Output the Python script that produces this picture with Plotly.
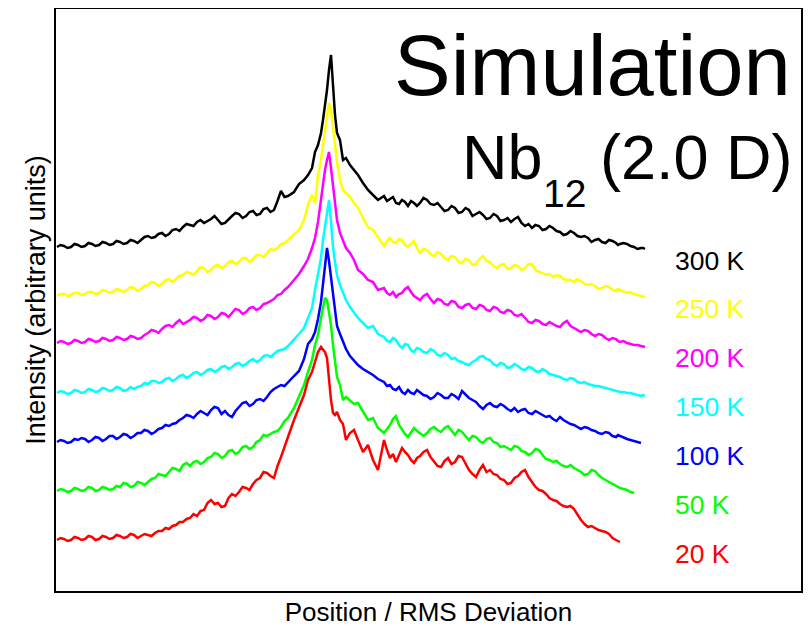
import plotly.graph_objects as go

# Position / RMS deviation (shared sample positions)
position = [
    -2.73, -2.695, -2.66, -2.625, -2.59, -2.555, -2.52, -2.485, -2.45, -2.415,
    -2.38, -2.345, -2.31, -2.275, -2.24, -2.205, -2.17, -2.135, -2.10, -2.065,
    -2.03, -1.995, -1.96, -1.925, -1.89, -1.855, -1.82, -1.785, -1.75, -1.715,
    -1.68, -1.645, -1.61, -1.575, -1.54, -1.505, -1.47, -1.435, -1.40, -1.365,
    -1.33, -1.295, -1.26, -1.225, -1.19, -1.155, -1.12, -1.085, -1.05, -1.015,
    -0.98, -0.945, -0.91, -0.875, -0.84, -0.805, -0.77, -0.735, -0.70, -0.665,
    -0.63, -0.595, -0.56, -0.525, -0.49, -0.455, -0.42,
    -0.36, -0.31, -0.26, -0.22, -0.18, -0.15, -0.12, -0.09, -0.07, -0.05,
    -0.03, -0.01, 0.01, 0.03, 0.05, 0.07, 0.10, 0.13, 0.16, 0.20,
    0.24, 0.28, 0.33, 0.38, 0.43, 0.48,
    0.54, 0.57, 0.60, 0.63, 0.66, 0.69, 0.72, 0.75, 0.78, 0.81, 0.84, 0.87, 0.90,
    0.935, 0.97, 1.005, 1.04, 1.075, 1.11, 1.145, 1.18, 1.215, 1.25,
    1.285, 1.32, 1.355, 1.39, 1.425, 1.46, 1.495, 1.53, 1.565, 1.60,
    1.635, 1.67, 1.705, 1.74, 1.775, 1.81, 1.845, 1.88, 1.915, 1.95,
    1.985, 2.02, 2.055, 2.09, 2.125, 2.16, 2.195, 2.23, 2.265, 2.30,
    2.335, 2.37, 2.405, 2.44, 2.475, 2.51, 2.545, 2.58, 2.615, 2.65,
    2.685, 2.72, 2.755, 2.79, 2.825, 2.86,
    2.88, 2.90, 2.935, 2.97, 3.005, 3.04, 3.075, 3.11, 3.13, 3.15]

temperatures = ["300 K", "250 K", "200 K", "150 K", "100 K", "50 K", "20 K"]
colors = ["#000000", "#ffff00", "#ff00ff", "#00ffff", "#0000ff", "#00ff00", "#ff0000"]
offsets = [344, 296, 247, 198, 149, 100, 51]

i_300 = [0, 2, 1, -1, 0, 3, 2, 0, 1, 4, 3, 1, 2, 5, 4, 2, 3, 6, 5, 3, 4, 7, 6, 4, 7, 10, 11, 9, 10, 13,
         14, 11, 13, 17, 18, 16, 20, 23, 22, 21, 25, 27, 24, 26, 28, 31, 27, 23, 24, 28, 31, 34, 33, 29, 31,
         35, 36, 32, 33, 38, 39, 35, 37, 46, 56, 50, 51,
         55, 63, 67, 72, 79, 95, 102, 114, 127, 140, 157, 177, 192, 162, 132, 114, 107, 87, 89, 82,
         77, 72, 64, 57, 52, 47,
         51, 46, 48, 50, 44, 43, 47, 45, 41, 46, 44, 41, 44, 49, 47, 43, 42, 44, 40, 36, 37, 41, 39, 34,
         35, 39, 37, 31, 33, 35, 32, 28, 29, 33, 31, 26, 27, 29, 25, 28, 30, 24, 21, 23, 19, 22, 21, 17,
         18, 21, 19, 16, 15, 12, 13, 16, 14, 11, 10, 11, 9, 5, 7, 8, 5, 4, 7, 6, 4, 2, 3, 4, 3, 1, 0, -2,
         -1, -1, -2]
i_250 = [-1, 1, 1, -1, 0, 2, 2, 0, 1, 3, 3, 1, 2, 5, 4, 2, 3, 6, 5, 3, 5, 8, 7, 4, 6, 9, 10, 13, 12, 9,
         11, 15, 16, 13, 16, 19, 20, 23, 22, 20, 24, 28, 27, 23, 25, 29, 30, 27, 29, 33, 34, 31, 33, 37, 37,
         33, 36, 40, 40, 38, 42, 46, 45, 47, 51, 52, 55,
         60, 65, 75, 90, 100, 92, 120, 135, 150, 167, 178, 192, 185, 168, 150, 133, 115, 105, 102, 98,
         92, 87, 77, 68, 65, 58,
         49, 54, 57, 53, 52, 56, 55, 50, 48, 51, 54, 47, 42, 46, 45, 41, 39, 43, 41, 37, 35, 39, 38, 33,
         32, 36, 35, 30, 31, 36, 39, 34, 33, 29, 27, 30, 31, 26, 27, 30, 29, 25, 27, 31, 31, 25, 23, 22,
         20, 21, 18, 20, 19, 16, 15, 15, 13, 16, 14, 11, 10, 11, 9, 6, 7, 9, 8, 5, 4, 6, 5, 3, 2, 3, 1, 0,
         -1, -1, -2]
i_200 = [1, 3, 2, 0, 1, 4, 3, 1, 2, 5, 4, 2, 3, 6, 5, 3, 4, 7, 6, 4, 5, 8, 7, 5, 6, 9, 11, 14, 13, 11,
         15, 18, 19, 17, 21, 24, 20, 22, 24, 27, 26, 23, 25, 29, 28, 25, 27, 31, 30, 27, 31, 35, 34, 30, 32,
         36, 37, 34, 36, 40, 41, 43, 45, 49, 50, 54, 57,
         64, 70, 78, 85, 96, 106, 122, 144, 162, 174, 184, 192, 176, 157, 139, 124, 111, 104, 96, 91,
         84, 74, 70, 64, 62, 54,
         56, 51, 49, 52, 47, 50, 51, 55, 57, 52, 48, 46, 44, 48, 50, 45, 41, 45, 44, 40, 39, 43, 42, 37,
         36, 39, 40, 36, 35, 39, 38, 34, 33, 37, 36, 32, 31, 34, 33, 29, 28, 30, 26, 22, 21, 24, 23, 20,
         19, 22, 20, 18, 17, 21, 23, 18, 16, 14, 12, 14, 13, 10, 8, 10, 9, 6, 4, 6, 5, 3, 2, 3, 1, 0,
         -1, -1, -2, -2, -3]
i_150 = [0, 2, 1, -1, 0, 3, 2, 0, 1, 4, 3, 1, 2, 5, 4, 2, 3, 6, 5, 2, 3, 6, 4, 6, 7, 10, 9, 12, 12, 10,
         11, 14, 15, 12, 14, 17, 18, 15, 17, 20, 21, 18, 20, 23, 24, 21, 23, 26, 27, 24, 26, 29, 30, 27, 29,
         32, 34, 31, 33, 37, 38, 36, 39, 42, 43, 44, 47,
         53, 59, 65, 75, 85, 103, 118, 135, 153, 165, 181, 193, 171, 146, 131, 118, 108, 100, 93, 86,
         81, 75, 70, 65, 67, 59,
         56, 52, 51, 55, 53, 48, 45, 49, 48, 43, 41, 45, 44, 41, 40, 44, 42, 38, 37, 40, 38, 34, 35, 32,
         31, 29, 28, 31, 33, 36, 37, 34, 33, 29, 27, 30, 29, 25, 26, 29, 27, 24, 23, 26, 25, 22, 21, 24,
         22, 19, 18, 17, 16, 14, 13, 15, 14, 11, 10, 11, 9, 8, 7, 7, 6, 5, 4, 3, 2, 2, 1, 1, 0, 0,
         -1, -2, -3, -2, -3]
i_100 = [0, 2, 1, -1, 0, 3, 2, 4, 3, 0, 2, 5, 4, 1, 3, 6, 6, 3, 5, 8, 7, 4, 6, 9, 9, 12, 11, 8, 10, 13,
         14, 17, 16, 18, 19, 22, 24, 27, 26, 24, 28, 31, 29, 27, 32, 35, 34, 28, 31, 27, 25, 31, 35, 39, 40,
         36, 38, 42, 43, 41, 45, 50, 53, 55, 57, 56, 60,
         66, 71, 83, 98, 103, 110, 123, 140, 156, 175, 194, 181, 165, 143, 128, 116, 108, 101, 93, 86,
         81, 77, 73, 70, 67, 63,
         60, 56, 57, 53, 52, 55, 50, 48, 52, 49, 48, 52, 50, 47, 46, 43, 45, 49, 47, 44, 44, 48, 46, 43,
         51, 47, 44, 42, 40, 36, 33, 37, 39, 36, 35, 38, 36, 33, 31, 34, 30, 32, 33, 29, 28, 31, 29, 27,
         25, 26, 23, 21, 25, 22, 20, 18, 17, 15, 13, 15, 14, 12, 11, 9, 8, 10, 9, 6, 5, 7, 6, 4, 3, 2,
         1, 0, -1]
i_50 = [0, 2, 1, -1, 0, 3, 2, 0, 1, 4, 3, 0, 1, 4, 3, 1, 2, 5, 4, 8, 7, 4, 5, 9, 8, 6, 9, 12, 13, 17,
        16, 15, 19, 23, 22, 20, 26, 28, 25, 29, 30, 27, 29, 33, 34, 38, 37, 33, 35, 40, 41, 37, 39, 44, 45,
        42, 44, 49, 51, 56, 55, 57, 59, 60, 64, 70, 73,
        83, 94, 106, 119, 131, 146, 156, 173, 183, 193, 191, 179, 166, 146, 129, 114, 106, 91, 94, 90,
        87, 88, 79, 71, 73, 63,
        58, 62, 66, 72, 75, 66, 61, 57, 54, 59, 63, 60, 58, 55, 58, 62, 64, 61, 59, 63, 65, 60, 56, 61,
        59, 55, 51, 55, 54, 50, 48, 52, 53, 49, 48, 44, 45, 43, 41, 45, 44, 40, 39, 36, 38, 42, 41, 36,
        32, 31, 29, 30, 27, 25, 24, 26, 23, 21, 19, 16, 17, 21, 20, 16, 13, 11, 9, 7, 5, 4, 3, 2, 1, -1,
        -2]
i_20 = [0, 2, 1, -1, 0, 3, 2, 0, 1, 4, 3, 0, 1, 4, 3, 1, 2, 5, 4, 2, 3, 6, 5, 2, 4, 6, 5, 4, 7, 9,
        9, 12, 11, 14, 15, 18, 18, 21, 22, 26, 24, 29, 30, 37, 40, 36, 37, 33, 34, 42, 46, 44, 48, 53, 52,
        50, 56, 60, 62, 68, 67, 64, 62, 74, 83, 94, 103,
        120, 132, 145, 160, 168, 178, 188, 193, 191, 188, 182, 160, 140, 127, 125, 128, 120, 116, 100, 107,
        110, 100, 88, 95, 80, 70,
        100, 90, 82, 86, 78, 85, 92, 88, 85, 80, 77, 82, 84, 88, 90, 83, 78, 74, 73, 79, 82, 76, 78, 84,
        83, 76, 70, 66, 63, 70, 75, 68, 70, 66, 65, 61, 60, 56, 57, 62, 64, 68, 70, 63, 58, 53, 50, 49,
        46, 42, 40, 39, 36, 34, 33, 34, 31, 25, 20, 16, 13, 14, 12, 10, 9, 8, 6, 2, 0, -1, -2]

intensities = [i_300, i_250, i_200, i_150, i_100, i_50, i_20]

fig = go.Figure()
for name, col, off, vals in zip(temperatures, colors, offsets, intensities):
    xs = position[:len(vals)]
    ys = [off + v for v in vals]
    fig.add_trace(go.Scatter(x=xs, y=ys, mode="lines", name=name,
                             line=dict(color=col, width=2.5), showlegend=False))

font_family = "Liberation Sans, Arial, sans-serif"
annotations = []
for name, col, off in zip(temperatures, colors, offsets):
    annotations.append(dict(x=3.43, y=off - 14, xref="x", yref="y", text=name,
                            showarrow=False, xanchor="left", yanchor="middle",
                            font=dict(family=font_family, size=26.5, color=col)))

annotations.append(dict(x=0.9893, y=0.903, xref="paper", yref="paper", text="Simulation",
                        showarrow=False, xanchor="right", yanchor="middle",
                        font=dict(family=font_family, size=85, color="black")))
annotations.append(dict(x=0.5423, y=0.745, xref="paper", yref="paper", text="Nb",
                        showarrow=False, xanchor="left", yanchor="middle",
                        font=dict(family=font_family, size=63, color="black")))
annotations.append(dict(x=0.6510, y=0.683, xref="paper", yref="paper", text="12",
                        showarrow=False, xanchor="left", yanchor="middle",
                        font=dict(family=font_family, size=39, color="black")))
annotations.append(dict(x=0.9919, y=0.745, xref="paper", yref="paper", text="(2.0 D)",
                        showarrow=False, xanchor="right", yanchor="middle",
                        font=dict(family=font_family, size=63, color="black")))

fig.update_layout(
    width=811, height=627,
    margin=dict(l=48, r=18, t=1, b=44),
    paper_bgcolor="white", plot_bgcolor="white",
    annotations=annotations,
    font=dict(family=font_family, color="black"),
    xaxis=dict(range=[-2.74, 4.71], showgrid=False, zeroline=False, showticklabels=False,
               ticks="", showline=True, linecolor="black", linewidth=2, mirror=True,
               automargin=False,
               title=dict(text="Position / RMS Deviation", font=dict(size=26), standoff=11)),
    yaxis=dict(range=[0, 582], showgrid=False, zeroline=False, showticklabels=False,
               ticks="", showline=True, linecolor="black", linewidth=2, mirror=True,
               automargin=False,
               title=dict(text="Intensity (arbitrary units)", font=dict(size=27), standoff=1)),
)

fig.write_html("out.html")
